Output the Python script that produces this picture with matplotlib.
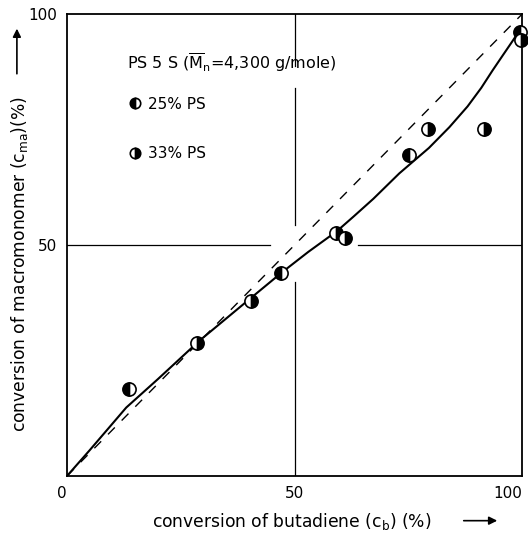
"""Conversion of macromonomer vs conversion of butadiene (PS 5 S)."""
import matplotlib

matplotlib.use("Agg")
import matplotlib.pyplot as plt
from matplotlib.lines import Line2D

# ---- data -----------------------------------------------------------------
ps25_cb = [13.7, 47.0, 75.2, 99.5]
ps25_cma = [18.8, 43.9, 69.5, 96.2]
ps33_cb = [28.5, 40.4, 59.1, 61.1, 79.3, 91.5, 99.7]
ps33_cma = [28.7, 37.9, 52.5, 51.5, 75.0, 75.0, 94.3]

curve_cb = [0, 5, 13, 20, 29, 40, 47, 53, 59.3, 63, 67.3, 73, 79.5, 84, 88,
            91, 93.5, 95.7, 97.5, 98.8, 99.7]
curve_cma = [0, 5.6, 14.8, 21.0, 29.2, 38.2, 43.9, 48.5, 53.0, 56.2, 60.0, 65.5,
             71.0, 75.5, 80.0, 84.0, 87.8, 91.0, 93.6, 95.5, 97.0]

ideal_cb = [0, 100]
ideal_cma = [0, 100]

xticks = [0, 50, 100]
xticklabels = ["0", "50", "100"]
yticks = [50, 100]
yticklabels = ["50", "100"]

INK = "black"
FS = 11

plt.rcParams["font.family"] = "DejaVu Sans"
fig = plt.figure(figsize=(5.28, 5.39), dpi=100)
ax = fig.add_axes([0.127, 0.117, 0.862, 0.857])
ax.set_xlim(0, 100)
ax.set_ylim(0, 100)
for sp in ax.spines.values():
    sp.set_linewidth(1.3)
    sp.set_color(INK)

# grid lines at 50, broken where the drawing leaves gaps
ax.plot([0, 44.6], [50, 50], color=INK, lw=0.9, zorder=1)
ax.plot([64, 100], [50, 50], color=INK, lw=0.9, zorder=1)
ax.plot([50, 50], [0, 42], color=INK, lw=0.9, zorder=1)
ax.plot([50, 50], [54.3, 84], color=INK, lw=0.9, zorder=1)
ax.plot([50, 50], [88.8, 100], color=INK, lw=0.9, zorder=1)

ax.plot(ideal_cb, ideal_cma, color=INK, lw=1.0, dashes=(7, 7), zorder=2)
ax.plot(curve_cb, curve_cma, color=INK, lw=1.5, zorder=3)

mk = dict(marker="o", linestyle="none", markersize=9.5, markeredgewidth=1.2,
          markeredgecolor=INK, markerfacecolor=INK, markerfacecoloralt="white",
          zorder=4, clip_on=False)
ax.plot(ps25_cb, ps25_cma, fillstyle="left", **mk)
ax.plot(ps33_cb, ps33_cma, fillstyle="right", **mk)

# ticks
ax.tick_params(length=0, labelsize=FS, pad=7)
ax.set_xticks(xticks)
ax.set_xticklabels(xticklabels)
ax.set_yticks(yticks)
ax.set_yticklabels(yticklabels)
xl = ax.get_xticklabels()
xl[0].set_ha("right")
xl[-1].set_ha("right")

# inset title and legend
ax.text(13.2, 89.6, r"PS 5 S ($\mathregular{\overline{M}_n}$=4,300 g/mole)",
        fontsize=11.5, va="center", ha="left", color=INK)
handles = [
    Line2D([], [], marker="o", linestyle="none", markersize=7.5, markeredgewidth=1.2,
           markeredgecolor=INK, markerfacecolor=INK, markerfacecoloralt="white",
           fillstyle="left"),
    Line2D([], [], marker="o", linestyle="none", markersize=7.5, markeredgewidth=1.2,
           markeredgecolor=INK, markerfacecolor=INK, markerfacecoloralt="white",
           fillstyle="right"),
]
ax.legend(handles, ["25% PS", "33% PS"], loc="upper left",
          bbox_to_anchor=(0.137, 0.821), frameon=False, fontsize=FS,
          handlelength=0.7, handletextpad=0.5, labelspacing=2.25,
          borderpad=0, borderaxespad=0)

# axis labels with arrows
fig.text(0.553, 0.033, r"conversion of butadiene ($\mathregular{c_b}$) (%)",
         fontsize=12.3, ha="center", va="center")
ax.annotate("", xy=(0.947, 0.034), xytext=(0.873, 0.034),
            xycoords="figure fraction", textcoords="figure fraction",
            arrowprops=dict(arrowstyle="-|>", color=INK, lw=1.2, mutation_scale=12))
fig.text(0.036, 0.51, r"conversion of macromonomer ($\mathregular{c_{ma}}$)(%)",
         fontsize=12.3, ha="center", va="center", rotation=90)
ax.annotate("", xy=(0.032, 0.952), xytext=(0.032, 0.858),
            xycoords="figure fraction", textcoords="figure fraction",
            arrowprops=dict(arrowstyle="-|>", color=INK, lw=1.2, mutation_scale=12))

fig.savefig("out.png", dpi=100, facecolor="white")
